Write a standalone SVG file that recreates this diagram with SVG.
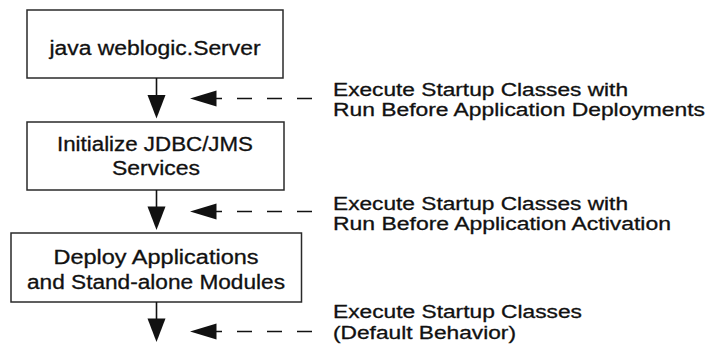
<svg xmlns="http://www.w3.org/2000/svg" width="710" height="347" viewBox="0 0 710 347">
  <style>
    .box { fill: #ffffff; stroke: #2a2a2a; stroke-width: 1.5; }
    .lbl { font-family: "Liberation Sans", Arial, sans-serif; font-size: 19.5px; fill: #111111; stroke: #111111; stroke-width: 0.3; }
    .note { font-size: 18px; }
    .mid { text-anchor: middle; }
    .flow { stroke: #111111; stroke-width: 1.6; fill: none; }
    .dash { stroke: #111111; stroke-width: 1.4; fill: none; stroke-dasharray: 15 15; }
    .head { fill: #111111; stroke: none; }
  </style>
  <rect width="710" height="347" fill="#ffffff"/>

  <g id="node-server">
    <rect class="box" x="27" y="10" width="256" height="68"/>
    <text class="lbl mid" x="155" y="55" textLength="211" lengthAdjust="spacingAndGlyphs">java weblogic.Server</text>
  </g>

  <g id="node-init">
    <rect class="box" x="27" y="122" width="257" height="68"/>
    <text class="lbl mid" x="155" y="151" textLength="196" lengthAdjust="spacingAndGlyphs">Initialize JDBC/JMS</text>
    <text class="lbl mid" x="156" y="175" textLength="88" lengthAdjust="spacingAndGlyphs">Services</text>
  </g>

  <g id="node-deploy">
    <rect class="box" x="11" y="233" width="290.5" height="69"/>
    <text class="lbl mid" x="156" y="264" textLength="205" lengthAdjust="spacingAndGlyphs">Deploy Applications</text>
    <text class="lbl mid" x="156" y="289" textLength="258" lengthAdjust="spacingAndGlyphs">and Stand-alone Modules</text>
  </g>

  <g id="note-1">
    <text class="lbl note" x="333" y="95.5" textLength="295" lengthAdjust="spacingAndGlyphs">Execute Startup Classes with</text>
    <text class="lbl note" x="333" y="116" textLength="372" lengthAdjust="spacingAndGlyphs">Run Before Application Deployments</text>
  </g>

  <g id="note-2">
    <text class="lbl note" x="333" y="209.5" textLength="295" lengthAdjust="spacingAndGlyphs">Execute Startup Classes with</text>
    <text class="lbl note" x="333" y="230" textLength="338" lengthAdjust="spacingAndGlyphs">Run Before Application Activation</text>
  </g>

  <g id="note-3">
    <text class="lbl note" x="333" y="318" textLength="249" lengthAdjust="spacingAndGlyphs">Execute Startup Classes</text>
    <text class="lbl note" x="333" y="338.5" textLength="183" lengthAdjust="spacingAndGlyphs">(Default Behavior)</text>
  </g>

  <g id="connectors">
    <line class="flow" x1="156.5" y1="78" x2="156.5" y2="97"/>
    <path class="head" d="M147.5,95 L165.5,95 L156.5,118.5 Z"/>
    <line class="dash" x1="312" y1="98.5" x2="200" y2="98.5"/>
    <path class="head" d="M190,98.5 L216.5,90.5 L216.5,106.5 Z"/>

    <line class="flow" x1="156.5" y1="190" x2="156.5" y2="208"/>
    <path class="head" d="M147.5,206.5 L165.5,206.5 L156.5,230 Z"/>
    <line class="dash" x1="312" y1="211.5" x2="200" y2="211.5"/>
    <path class="head" d="M190,211.5 L216.5,203.5 L216.5,219.5 Z"/>

    <line class="flow" x1="156.5" y1="302" x2="156.5" y2="320"/>
    <path class="head" d="M147.5,318.5 L165.5,318.5 L156.5,342 Z"/>
    <line class="dash" x1="312" y1="331.5" x2="200" y2="331.5"/>
    <path class="head" d="M190,331.5 L216.5,323.5 L216.5,339.5 Z"/>
  </g>
</svg>
